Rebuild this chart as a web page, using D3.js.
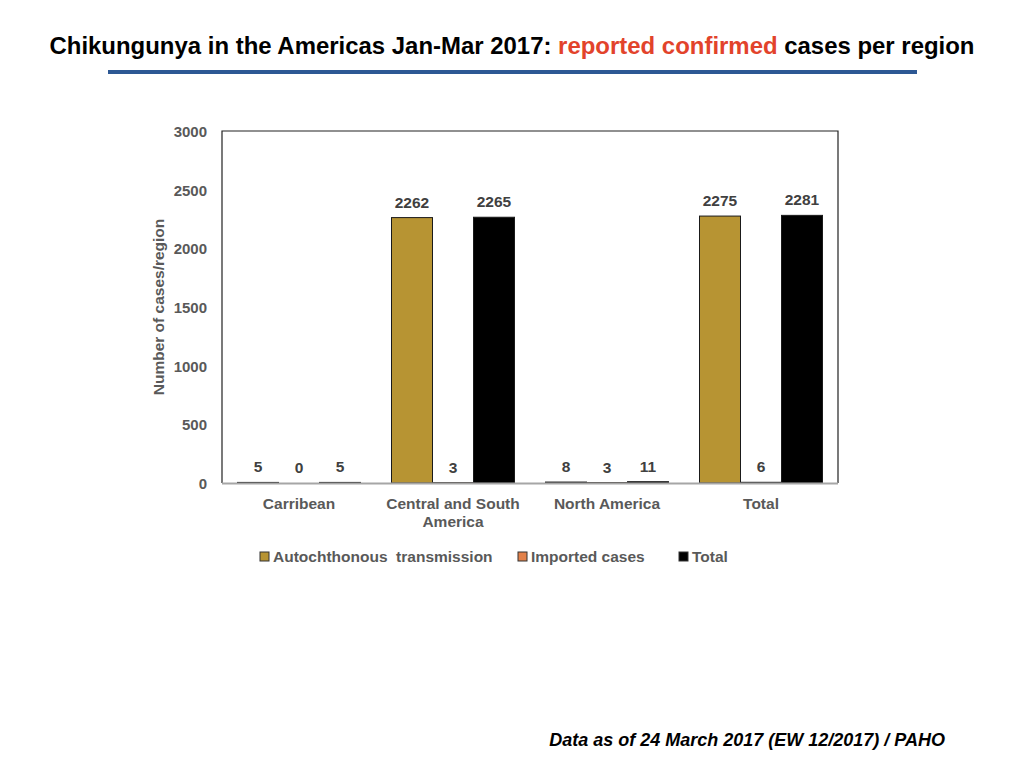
<!DOCTYPE html>
<html>
<head>
<meta charset="utf-8">
<script src="https://cdn.jsdelivr.net/npm/d3@7"></script>
<style>
  body { margin: 0; background: #fff; }
  svg { display: block; font-family: "Liberation Sans", Arial, sans-serif; }
</style>
</head>
<body>
<div id="chart"></div>
<script>
// data
var regions = ["Carribean", "Central and South America", "North America", "Total"];
var series = ["Autochthonous  transmission", "Imported cases", "Total"];
var autochthonous = [5, 2262, 8, 2275];
var imported = [0, 3, 3, 6];
var totals = [5, 2265, 11, 2281];
var yTicks = [0, 500, 1000, 1500, 2000, 2500, 3000];
var colors = ["#b79433", "#e2814a", "#000000"];

var width = 1024, height = 768;
var plotLeft = 222, plotRight = 838, plotTop = 131, plotBottom = 483;

var svg = d3.select("#chart").append("svg")
    .attr("width", width)
    .attr("height", height);

// title
var title = svg.append("text")
    .attr("x", 512)
    .attr("y", 54)
    .attr("text-anchor", "middle")
    .attr("font-size", 24)
    .attr("font-weight", "bold")
    .attr("fill", "#000")
    .attr("textLength", 925)
    .attr("lengthAdjust", "spacingAndGlyphs");
title.append("tspan").text("Chikungunya in the Americas Jan-Mar 2017: ");
title.append("tspan").attr("fill", "#e2432b").text("reported confirmed");
title.append("tspan").text(" cases per region");

svg.append("rect")
    .attr("x", 108).attr("y", 70)
    .attr("width", 809).attr("height", 4)
    .attr("fill", "#2d5894");

var x0 = d3.scaleBand()
    .domain(regions)
    .range([plotLeft, plotRight]);

var x1 = d3.scaleBand()
    .domain(series)
    .range([15.5, x0.bandwidth() - 15.5]);

var y = d3.scaleLinear()
    .domain([0, 3000])
    .range([plotBottom, plotTop]);

var rows = regions.map(function (r, i) {
    return { region: r, values: [autochthonous[i], imported[i], totals[i]] };
});

// frame
svg.append("path")
    .attr("d", "M" + plotLeft + "," + plotBottom + "V" + plotTop + "H" + plotRight + "V" + plotBottom)
    .attr("fill", "none")
    .attr("stroke", "#222")
    .attr("stroke-width", 1.2);

var g = svg.selectAll(".group")
    .data(rows)
    .enter().append("g")
    .attr("class", "group")
    .attr("transform", function (d) { return "translate(" + x0(d.region) + ",0)"; });

function cells(d) {
    return d.values.map(function (v, i) { return { key: series[i], value: v, i: i }; });
}

g.selectAll("rect")
    .data(cells)
    .enter().append("rect")
    .attr("x", function (d) { return x1(d.key); })
    .attr("width", x1.bandwidth())
    .attr("y", function (d) { return y(d.value); })
    .attr("height", function (d) { return plotBottom - y(d.value); })
    .attr("fill", function (d) { return colors[d.i]; })
    .attr("stroke", function (d) { return d.value > 0 ? "#1a1a1a" : "none"; })
    .attr("stroke-width", 1);

g.selectAll(".lbl")
    .data(cells)
    .enter().append("text")
    .attr("class", "lbl")
    .attr("x", function (d) { return x1(d.key) + x1.bandwidth() / 2; })
    .attr("y", function (d) { return y(d.value) - 10; })
    .attr("text-anchor", "middle")
    .attr("font-size", 15.5)
    .attr("font-weight", "bold")
    .attr("fill", "#404040")
    .text(function (d) { return d.value; });

// x axis baseline
svg.append("line")
    .attr("x1", plotLeft).attr("x2", plotRight)
    .attr("y1", plotBottom + 0.5).attr("y2", plotBottom + 0.5)
    .attr("stroke", "#a6a6a6")
    .attr("stroke-width", 2);

// y tick labels
svg.selectAll(".ytick")
    .data(yTicks)
    .enter().append("text")
    .attr("class", "ytick")
    .attr("x", 207)
    .attr("y", function (d) { return y(d) + 6; })
    .attr("text-anchor", "end")
    .attr("font-size", 15)
    .attr("font-weight", "bold")
    .attr("fill", "#595959")
    .text(function (d) { return d; });

svg.append("text")
    .attr("transform", "translate(164," + ((plotTop + plotBottom) / 2) + ") rotate(-90)")
    .attr("text-anchor", "middle")
    .attr("font-size", 15.5)
    .attr("font-weight", "bold")
    .attr("fill", "#595959")
    .text("Number of cases/region");

// x category labels
var xl = svg.selectAll(".xlab")
    .data(regions)
    .enter().append("text")
    .attr("class", "xlab")
    .attr("x", function (d) { return x0(d) + x0.bandwidth() / 2; })
    .attr("y", 509)
    .attr("text-anchor", "middle")
    .attr("font-size", 15.5)
    .attr("font-weight", "bold")
    .attr("fill", "#595959");
xl.each(function (d) {
    var parts = d === "Central and South America" ? ["Central and South", "America"] : [d];
    var t = d3.select(this);
    parts.forEach(function (p, i) {
        t.append("tspan")
            .attr("x", x0(d) + x0.bandwidth() / 2)
            .attr("dy", i === 0 ? 0 : 18)
            .text(p);
    });
});

// legend
var legendX = [260, 518, 679];
var lg = svg.selectAll(".leg")
    .data(series)
    .enter().append("g")
    .attr("class", "leg")
    .attr("transform", function (d, i) { return "translate(" + legendX[i] + ",552)"; });
lg.append("rect")
    .attr("width", 9).attr("height", 9)
    .attr("fill", function (d, i) { return colors[i]; })
    .attr("stroke", "#333")
    .attr("stroke-width", 1);
lg.append("text")
    .attr("x", 13)
    .attr("y", 10)
    .attr("font-size", 15.5)
    .attr("font-weight", "bold")
    .attr("fill", "#595959")
    .style("white-space", "pre")
    .text(function (d) { return d; });

// footer
svg.append("text")
    .attr("x", 945)
    .attr("y", 746)
    .attr("text-anchor", "end")
    .attr("font-size", 18)
    .attr("font-weight", "bold")
    .attr("font-style", "italic")
    .attr("fill", "#000")
    .text("Data as of 24 March 2017 (EW 12/2017) / PAHO");
</script>
</body>
</html>
